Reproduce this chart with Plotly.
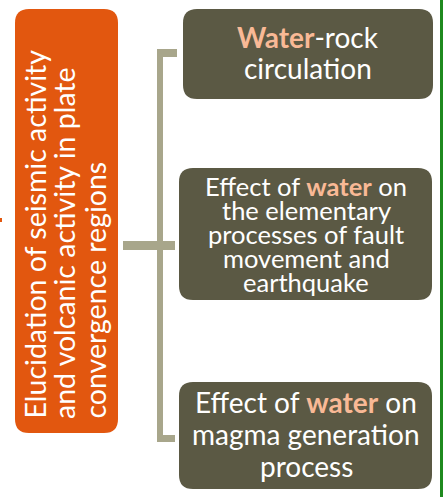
import plotly.graph_objects as go

# ---- content ----
main_lines = ["Elucidation of seismic activity",
              "and volcanic activity in plate",
              "convergence regions"]
box1_lines = ["<b><span style='color:#F9B996'>Water</span></b>-rock", "circulation"]
box2_lines = ["Effect of <b><span style='color:#F9B996'>water</span></b> on",
              "the elementary", "processes of fault", "movement and", "earthquake"]
box3_lines = ["Effect of <b><span style='color:#F9B996'>water</span></b> on",
              "magma generation", "process"]

# ---- styles / layout ----
W, H = 443, 497
ORANGE = "#E2570F"
OLIVE = "#5B5944"
BRACKET = "#A8A68B"
GREEN = "#1F8A1F"
FONT = "Lato"


def rrect(x0, y0, x1, y1, r):
    return (f"M{x0+r},{y0} L{x1-r},{y0} Q{x1},{y0} {x1},{y0+r} "
            f"L{x1},{y1-r} Q{x1},{y1} {x1-r},{y1} L{x0+r},{y1} "
            f"Q{x0},{y1} {x0},{y1-r} L{x0},{y0+r} Q{x0},{y0} {x0+r},{y0} Z")


shapes = []
# main orange box
shapes.append(dict(type="path", path=rrect(15, 9, 118, 433, 14), fillcolor=ORANGE,
                   line=dict(width=0), layer="below"))
# right boxes
boxes = [(183, 9, 433, 99), (179, 168, 432, 300), (179, 382, 432, 489)]
for b in boxes:
    shapes.append(dict(type="path", path=rrect(*b, 14), fillcolor=OLIVE,
                       line=dict(width=0), layer="below"))
# bracket
for (x0, y0, x1, y1) in [(157, 49, 163, 442), (157, 49, 177, 57), (157, 435, 175, 442),
                         (123, 241, 175, 250)]:
    shapes.append(dict(type="rect", x0=x0, y0=y0, x1=x1, y1=y1, fillcolor=BRACKET,
                       line=dict(width=0), layer="below"))
# small orange mark on left edge
shapes.append(dict(type="rect", x0=0, y0=218, x1=2, y1=222, fillcolor=ORANGE,
                   line=dict(width=0), layer="below"))
# green border on right edge
shapes.append(dict(type="rect", x0=440, y0=0, x1=443, y1=H, fillcolor=GREEN,
                   line=dict(width=0), layer="below"))

annotations = []
# rotated main text
main_x = [34, 64, 94]
for txt, x in zip(main_lines, main_x):
    annotations.append(dict(x=x, y=421, text=txt, textangle=-90, showarrow=False,
                            xanchor="center", yanchor="bottom",
                            font=dict(family=FONT, size=28.5, color="white")))


def box_text(lines, cx, ys, size):
    for txt, y in zip(lines, ys):
        annotations.append(dict(x=cx, y=y, text=txt, showarrow=False,
                                xanchor="center", yanchor="middle",
                                font=dict(family=FONT, size=size, color="white")))


box_text(box1_lines, 308, [37, 68], 28)
box_text(box2_lines, 306, [186, 210, 234, 258, 282], 25.5)
box_text(box3_lines, 306, [402, 434, 466], 28)

fig = go.Figure()
fig.update_layout(
    width=W, height=H, margin=dict(l=0, r=0, t=0, b=0),
    paper_bgcolor="white", plot_bgcolor="white",
    xaxis=dict(range=[0, W], visible=False, fixedrange=True),
    yaxis=dict(range=[H, 0], visible=False, fixedrange=True),
    shapes=shapes, annotations=annotations, showlegend=False,
)
fig.write_html("out.html", config={"displayModeBar": False},
               post_script="document.body.style.margin='0';document.body.style.overflow='hidden';")
